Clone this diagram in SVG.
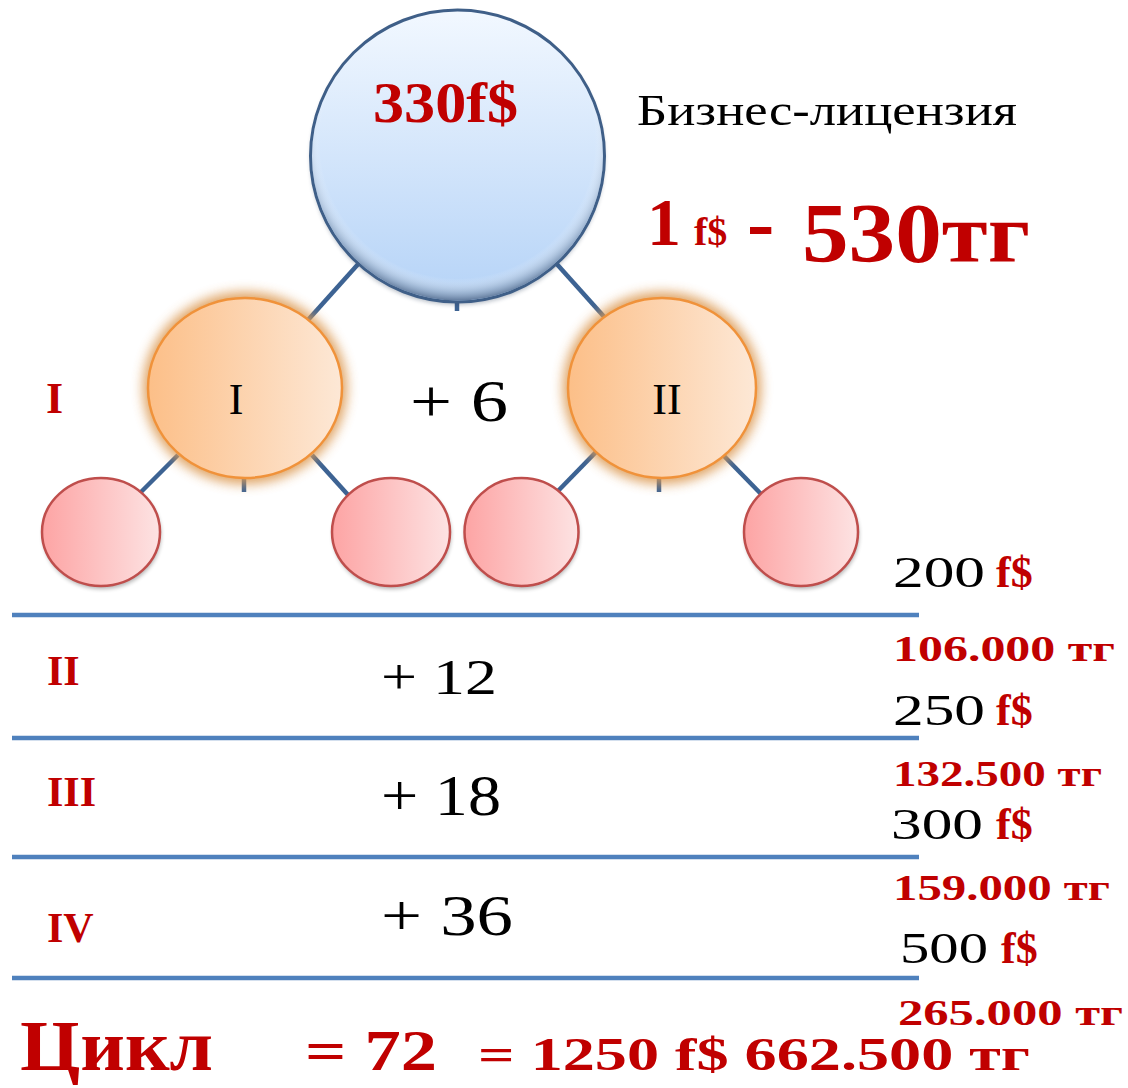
<svg xmlns="http://www.w3.org/2000/svg" width="1128" height="1088" viewBox="0 0 1128 1088">
<defs>
<linearGradient id="gBlue" x1="0" y1="0" x2="0" y2="1">
<stop offset="0" stop-color="#f2f8ff"/>
<stop offset="1" stop-color="#b5d3f7"/>
</linearGradient>
<radialGradient id="gRim" cx="0.5" cy="0.45" r="0.55">
<stop offset="0.86" stop-color="#ffffff" stop-opacity="0"/>
<stop offset="0.95" stop-color="#8ea3bd" stop-opacity="0.6"/>
<stop offset="1" stop-color="#5c7597" stop-opacity="0.95"/>
</radialGradient>
<linearGradient id="gOrange" x1="0" y1="0" x2="1" y2="0">
<stop offset="0" stop-color="#fcbf88"/>
<stop offset="1" stop-color="#fde8d6"/>
</linearGradient>
<linearGradient id="gPink" x1="0" y1="0" x2="1" y2="0">
<stop offset="0" stop-color="#fda4a4"/>
<stop offset="1" stop-color="#fde3e3"/>
</linearGradient>
<filter id="glow" x="-30%" y="-30%" width="160%" height="160%">
<feGaussianBlur stdDeviation="6"/>
</filter>
<filter id="shadow" x="-20%" y="-20%" width="140%" height="150%">
<feGaussianBlur stdDeviation="2"/>
</filter>
</defs>
<style>
.con{stroke:#3d6393;stroke-width:4.5;fill:none}
.rule{stroke:#4f81bd;stroke-width:4.5}
.serif{font-family:"Liberation Serif","DejaVu Serif",serif}
.red{fill:#c00000;font-weight:bold}
.blk{fill:#000000}
.orange{fill:url(#gOrange);stroke:#f0923a;stroke-width:2.5}
.pink{fill:url(#gPink);stroke:#bf4e4c;stroke-width:2.5}
</style>
<rect width="1128" height="1088" fill="#ffffff"/>
<g id="connectors">
<line class="con" x1="360" y1="262" x2="308" y2="320"/>
<line class="con" x1="555" y1="262" x2="607" y2="320"/>
<line class="con" x1="457" y1="300" x2="457" y2="311"/>
<line class="con" x1="178" y1="455" x2="139" y2="494"/>
<line class="con" x1="312" y1="455" x2="349" y2="496"/>
<line class="con" x1="244" y1="476" x2="244" y2="492"/>
<line class="con" x1="596" y1="452" x2="557" y2="492"/>
<line class="con" x1="724" y1="456" x2="762" y2="495"/>
<line class="con" x1="659" y1="476" x2="659" y2="492"/>
</g>
<g id="rules">
<line class="rule" x1="12" y1="615" x2="919" y2="615"/>
<line class="rule" x1="12" y1="738" x2="919" y2="738"/>
<line class="rule" x1="12" y1="857" x2="919" y2="857"/>
<line class="rule" x1="12" y1="978" x2="919" y2="978"/>
</g>
<g id="node-top">
<ellipse cx="457.5" cy="159" rx="147" ry="146" fill="#33455f" opacity="0.35" filter="url(#shadow)"/>
<ellipse cx="457.5" cy="156" rx="147" ry="146" fill="url(#gBlue)" stroke="#3f5f88" stroke-width="3"/>
<ellipse cx="457.5" cy="156" rx="145.5" ry="144.5" fill="url(#gRim)"/>
<text class="serif red" x="373" y="122" font-size="56" textLength="145" lengthAdjust="spacingAndGlyphs">330f$</text>
</g>
<g id="node-I">
<ellipse cx="245" cy="388" rx="102" ry="96" fill="#dc9a52" opacity="0.9" filter="url(#glow)"/>
<ellipse class="orange" cx="245" cy="388" rx="97" ry="90"/>
<text class="serif blk" x="236" y="414" font-size="44" text-anchor="middle">I</text>
</g>
<g id="node-II">
<ellipse cx="662" cy="388" rx="99" ry="96" fill="#dc9a52" opacity="0.9" filter="url(#glow)"/>
<ellipse class="orange" cx="662" cy="388" rx="94" ry="90"/>
<text class="serif blk" x="667" y="414" font-size="44" text-anchor="middle">II</text>
</g>
<g id="node-p1">
<ellipse cx="102" cy="535" rx="59" ry="54" fill="#000" opacity="0.3" filter="url(#shadow)"/>
<ellipse class="pink" cx="101" cy="532" rx="59" ry="54"/>
</g>
<g id="node-p2">
<ellipse cx="392" cy="535" rx="59" ry="54" fill="#000" opacity="0.3" filter="url(#shadow)"/>
<ellipse class="pink" cx="391" cy="532" rx="59" ry="54"/>
</g>
<g id="node-p3">
<ellipse cx="522" cy="535" rx="57" ry="54" fill="#000" opacity="0.3" filter="url(#shadow)"/>
<ellipse class="pink" cx="521.5" cy="532" rx="57" ry="54"/>
</g>
<g id="node-p4">
<ellipse cx="802" cy="535" rx="57" ry="54" fill="#000" opacity="0.3" filter="url(#shadow)"/>
<ellipse class="pink" cx="801" cy="532" rx="57" ry="54"/>
</g>
<g id="labels">
<text class="serif blk" x="637" y="125" font-size="44" textLength="380" lengthAdjust="spacingAndGlyphs">Бизнес-лицензия</text>
<text class="serif red" x="647" y="245" font-size="68">1</text>
<text class="serif red" x="694" y="245" font-size="40">f$</text>
<text class="serif red" x="747" y="250" font-size="82">-</text>
<text class="serif red" x="802" y="262" font-size="84" textLength="228" lengthAdjust="spacingAndGlyphs">530тг</text>

<text class="serif red" x="46" y="413" font-size="44">I</text>
<text class="serif blk" x="410" y="421" font-size="60" textLength="98" lengthAdjust="spacingAndGlyphs">+ 6</text>

<text class="serif red" x="47" y="685" font-size="42">II</text>
<text class="serif blk" x="381" y="694" font-size="50" textLength="116" lengthAdjust="spacingAndGlyphs">+ 12</text>
<text class="serif red" x="47" y="806" font-size="42">III</text>
<text class="serif blk" x="381" y="815" font-size="58" textLength="120" lengthAdjust="spacingAndGlyphs">+ 18</text>
<text class="serif red" x="47" y="942" font-size="42">IV</text>
<text class="serif blk" x="381" y="935" font-size="58" textLength="132" lengthAdjust="spacingAndGlyphs">+ 36</text>

<text class="serif blk" x="893" y="587" font-size="44" textLength="92" lengthAdjust="spacingAndGlyphs">200</text>
<text class="serif red" x="996" y="587" font-size="44">f$</text>
<text class="serif red" x="893" y="661" font-size="36" textLength="222" lengthAdjust="spacingAndGlyphs">106.000 тг</text>
<text class="serif blk" x="893" y="725" font-size="44" textLength="92" lengthAdjust="spacingAndGlyphs">250</text>
<text class="serif red" x="996" y="725" font-size="44">f$</text>
<text class="serif red" x="893" y="786" font-size="36" textLength="209" lengthAdjust="spacingAndGlyphs">132.500 тг</text>
<text class="serif blk" x="891" y="839" font-size="44" textLength="92" lengthAdjust="spacingAndGlyphs">300</text>
<text class="serif red" x="996" y="839" font-size="44">f$</text>
<text class="serif red" x="893" y="900" font-size="36" textLength="217" lengthAdjust="spacingAndGlyphs">159.000 тг</text>
<text class="serif blk" x="900" y="963" font-size="44" textLength="88" lengthAdjust="spacingAndGlyphs">500</text>
<text class="serif red" x="1001" y="963" font-size="44">f$</text>
<text class="serif red" x="898" y="1025" font-size="36" textLength="225" lengthAdjust="spacingAndGlyphs">265.000 тг</text>

<text class="serif red" x="20" y="1070" font-size="72" textLength="193" lengthAdjust="spacingAndGlyphs">Цикл</text>
<text class="serif red" x="305" y="1070" font-size="56" textLength="132" lengthAdjust="spacingAndGlyphs">= 72</text>
<text class="serif red" x="478" y="1070" font-size="46" textLength="552" lengthAdjust="spacingAndGlyphs">= 1250 f$ 662.500 тг</text>
</g>
</svg>
